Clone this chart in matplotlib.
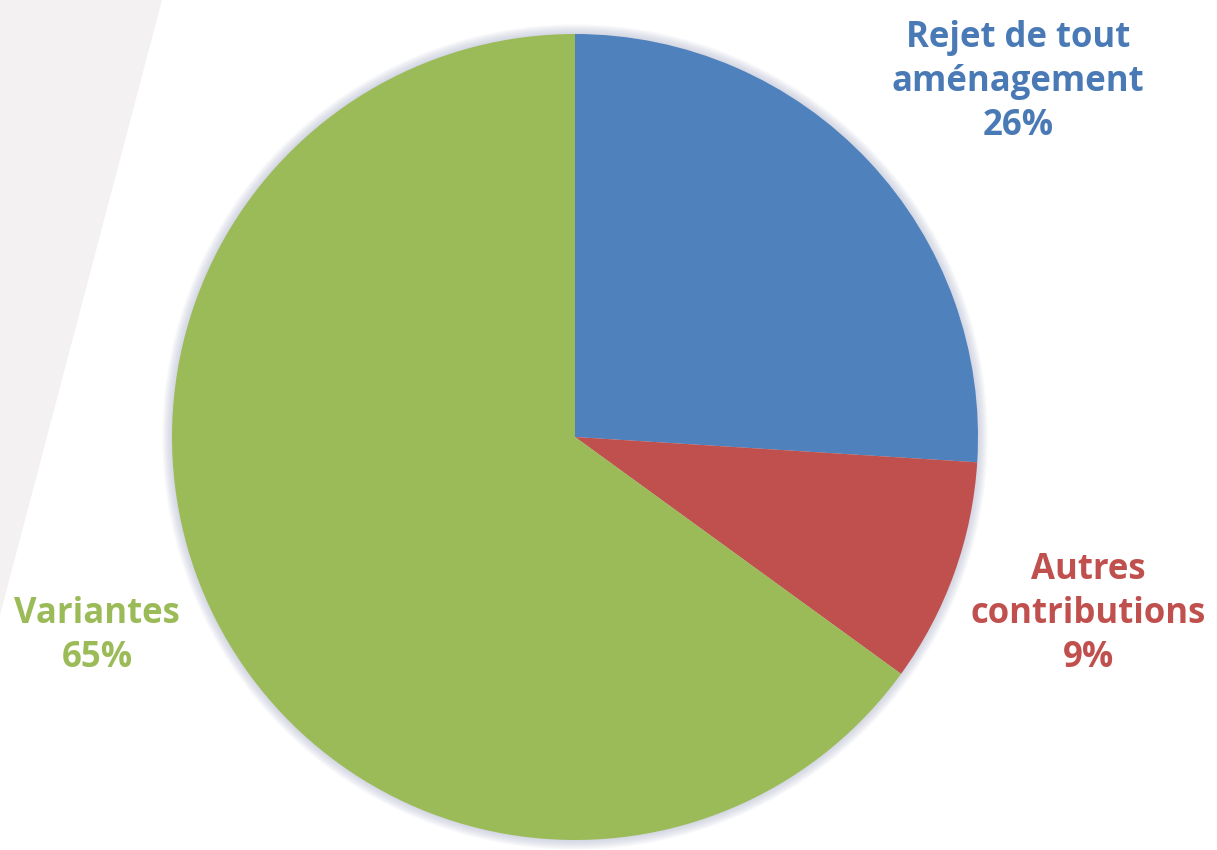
import matplotlib.pyplot as plt
from matplotlib.patches import Polygon, Circle

labels = ["Rejet de tout\naménagement", "Autres\ncontributions", "Variantes"]
values = [26, 9, 65]
colors = ["#4F81BD", "#C0504D", "#9BBB59"]
text_colors = ["#4A7AB5", "#C0504D", "#9BBB59"]

W, H = 1217, 850
fig = plt.figure(figsize=(W / 100, H / 100), dpi=100)
fig.patch.set_facecolor("white")

# faint grey band at top left
band = Polygon([(0, 1), (162 / W, 1), (0, 1 - 615 / H)],
               closed=True, transform=fig.transFigure, facecolor="#f4f1f2",
               edgecolor="none", zorder=0)
fig.patches.append(band)

cx, cy, r = 575, 437, 403
pad = 1.05
ax = fig.add_axes([(cx - r * pad) / W, 1 - (cy + r * pad) / H,
                   2 * r * pad / W, 2 * r * pad / H])

# soft shadow around the pie
for k in range(8):
    ax.add_patch(Circle((0, 0), 1.0 + 0.003 * (k + 1), facecolor="#a8aec8",
                        alpha=0.07, edgecolor="none", zorder=0))

ax.pie(values, colors=colors, startangle=90, counterclock=False, radius=1.0,
       wedgeprops=dict(linewidth=0), frame=True)
ax.set_xlim(-pad, pad)
ax.set_ylim(-pad, pad)
ax.set_aspect("equal")
ax.axis("off")

label_pos = [(1018, 82), (1088, 614), (97, 636)]
for lab, v, c, (x, y) in zip(labels, values, text_colors, label_pos):
    fig.text(x / W, 1 - y / H, f"{lab}\n{v}%", ha="center", va="center",
             color=c, fontsize=25, fontweight="bold", family="Open Sans",
             linespacing=1.3)

fig.savefig("out.png", dpi=100)
